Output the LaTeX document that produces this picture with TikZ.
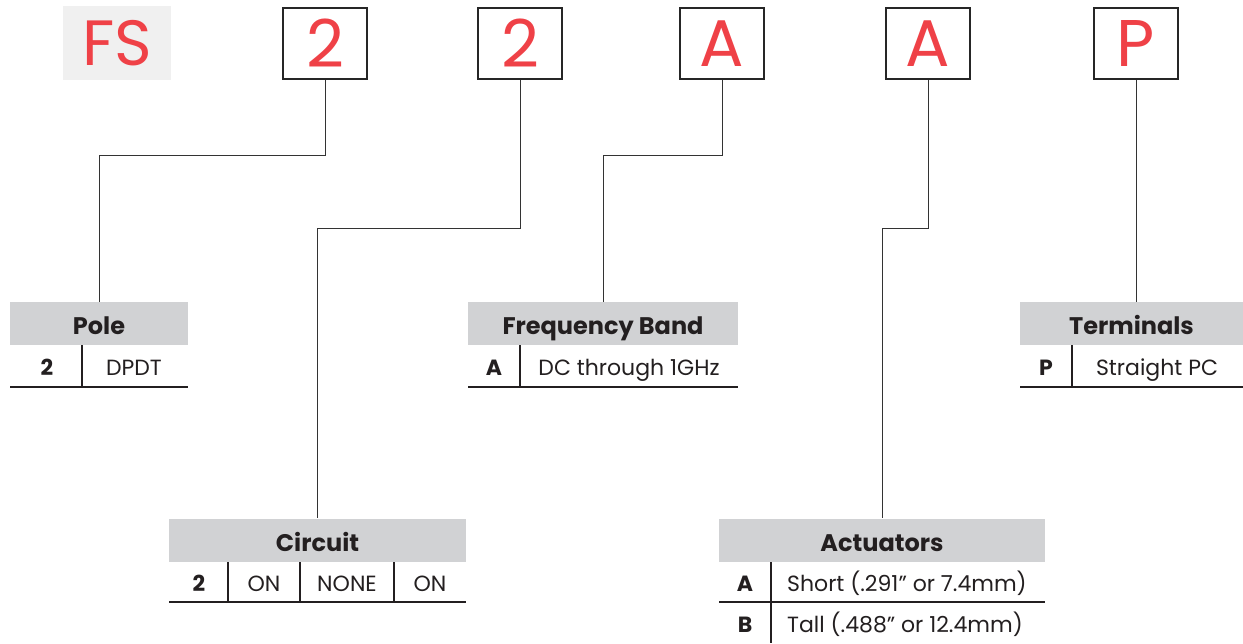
\documentclass[tikz,border=0pt]{standalone}
\usepackage{fontspec}
\setmainfont{Poppins}
\definecolor{codered}{HTML}{EF4147}
\definecolor{kopfgrau}{HTML}{D1D2D4}
\definecolor{fsgrau}{HTML}{F0F0F0}
\definecolor{schrift}{HTML}{231F20}
\begin{document}
\begin{tikzpicture}[x=1pt, y=-1pt,
		codebox/.style={draw=black!85, line width=2.5pt, minimum width=84pt,
			minimum height=71pt, inner sep=0pt, text=codered,
			font=\fontsize{66}{66}\selectfont},
		kopf/.style={fill=kopfgrau, minimum height=43pt, inner sep=0pt,
			text height=22pt, text depth=0pt,
			text=schrift, font=\fontsize{24}{24}\selectfont\bfseries},
		key/.style={inner sep=0pt, anchor=base, text=schrift,
			font=\fontsize{22}{22}\selectfont\bfseries},
		wert/.style={inner sep=0pt, anchor=base, text=schrift,
			font=\fontsize{22}{22}\selectfont},
		link/.style={draw=black!80, line width=1pt},
		tab/.style={draw=schrift, line width=1.2pt}]
		\useasboundingbox (0,0) rectangle (1243,643);
		% Bestellschluessel
		\node[fill=fsgrau, minimum width=108pt, minimum height=74pt, inner sep=0pt,
			text=codered, font=\fontsize{64}{64}\selectfont] (fs) at (117,43) {FS};
		\node[codebox] (c1) at (325,43.5) {2};
		\node[codebox] (c2) at (520,43.5) {2};
		\node[codebox] (c3) at (722,43.5) {A};
		\node[codebox] (c4) at (928,43.5) {A};
		\node[codebox] (c5) at (1136,43.5) {P};
		% Pole
		\node[kopf, minimum width=178pt] (pole) at (99,323.5) {Pole};
		\node[key] (pole2) at (47,375) {2};
		\node[wert] (poleDPDT) at (134,375) {DPDT};
		\draw[tab] (82,345) -- (82,387);
		\draw[tab] (10,387) -- (188,387);
		% Frequency Band
		\node[kopf, minimum width=270pt] (band) at (603,323.5) {Frequency Band};
		\node[key] (bandA) at (494,375) {A};
		\node[wert] (bandDC) at (629,375) {DC through 1GHz};
		\draw[tab] (520,345) -- (520,387);
		\draw[tab] (468,387) -- (738,387);
		% Terminals
		\node[kopf, minimum width=223pt] (term) at (1131.5,323.5) {Terminals};
		\node[key] (termP) at (1046,375) {P};
		\node[wert] (termPC) at (1157,375) {Straight PC};
		\draw[tab] (1072,345) -- (1072,387);
		\draw[tab] (1020,387) -- (1243,387);
		% Circuit
		\node[kopf, minimum width=297pt] (circ) at (317.5,540) {Circuit};
		\node[key] (circ2) at (199,591) {2};
		\node[wert] (circON) at (264,591) {ON};
		\node[wert] (circNONE) at (347,591) {NONE};
		\node[wert] (circOFF) at (430,591) {ON};
		\draw[tab] (228,562) -- (228,602) (300,562) -- (300,602) (394,562) -- (394,602);
		\draw[tab] (169,602) -- (466,602);
		% Actuators
		\node[kopf, minimum width=326pt] (act) at (882,540) {Actuators};
		\node[key] (actA) at (745,591) {A};
		\node[wert, anchor=base west] (actShort) at (787,591) {Short (.291” or 7.4mm)};
		\node[key] (actB) at (745,632) {B};
		\node[wert, anchor=base west] (actTall) at (787,632) {Tall (.488” or 12.4mm)};
		\draw[tab] (771,562) -- (771,643);
		\draw[tab] (719,602) -- (1045,602);
		% Verbindungen
		\draw[link] (c1.south) -- ++(0,75) -| (pole.north);
		\draw[link] (c2.south) -- ++(0,148) -| (circ.north);
		\draw[link] (c3.south) -- ++(0,75) -| (band.north);
		\draw[link] (c4.south) -- ++(0,148) -| (act.north);
		\draw[link] (c5.south) -- (c5.south |- term.north);
	\end{tikzpicture}
\end{document}
